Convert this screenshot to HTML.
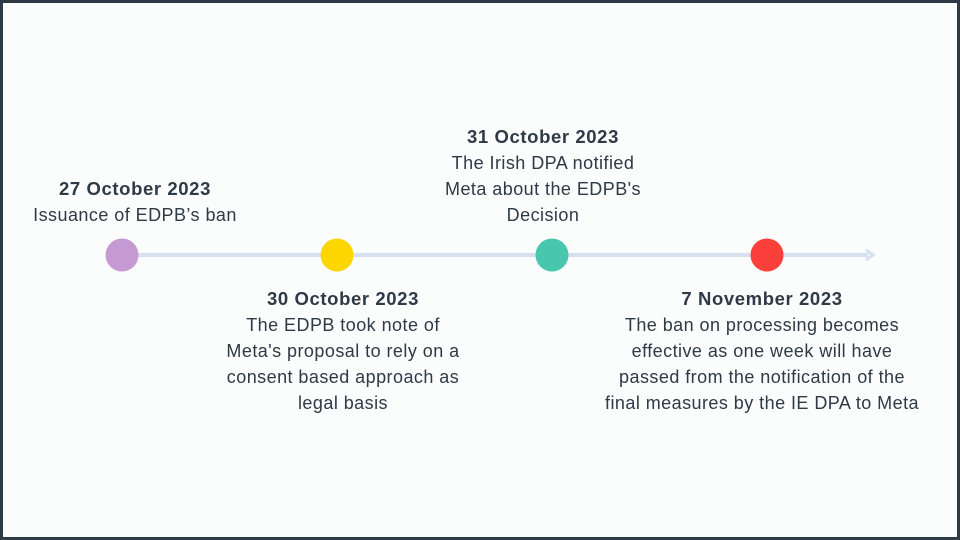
<!DOCTYPE html>
<html><head><meta charset="utf-8"><style>
html,body{margin:0;padding:0}
body{width:960px;height:540px;position:relative;overflow:hidden;background:#fbfcfc;font-family:"Liberation Sans",sans-serif;color:#2e3a45}
.frame{position:absolute;left:0;top:0;width:954px;height:534px;border:3px solid #2e3a45;}
.t{position:absolute;text-align:center;font-size:18px;letter-spacing:0.45px;line-height:26px;white-space:nowrap;transform:translateX(-50%)}
.t b{font-size:18.5px;letter-spacing:0.6px}
.dot{position:absolute;width:33px;height:33px;border-radius:50%;transform:translate(-50%,-50%);top:255px}
</style></head><body>
<div class="frame"></div>
<svg style="position:absolute;left:0;top:0" width="960" height="540">
<line x1="122" y1="255" x2="868" y2="255" stroke="#d6e0ee" stroke-width="4"/>
<polyline points="866,250 873,255 866,260" fill="none" stroke="#d6e0ee" stroke-width="3"/>
</svg>
<div class="dot" style="left:122px;background:#c59ad2"></div>
<div class="dot" style="left:337px;background:#fdd600"></div>
<div class="dot" style="left:552px;background:#48c6ae"></div>
<div class="dot" style="left:767px;background:#fb3f3a"></div>
<div class="t" style="left:135px;top:176px"><b>27 October 2023</b><br>Issuance of EDPB’s ban</div>
<div class="t" style="left:343px;top:286px"><b>30 October 2023</b><br>The EDPB took note of<br>Meta's proposal to rely on a<br>consent based approach as<br>legal basis</div>
<div class="t" style="left:543px;top:124px"><b>31 October 2023</b><br>The Irish DPA notified<br>Meta about the EDPB's<br>Decision</div>
<div class="t" style="left:762px;top:286px"><b>7 November 2023</b><br>The ban on processing becomes<br>effective as one week will have<br>passed from the notification of the<br>final measures by the IE DPA to Meta</div>
</body></html>
